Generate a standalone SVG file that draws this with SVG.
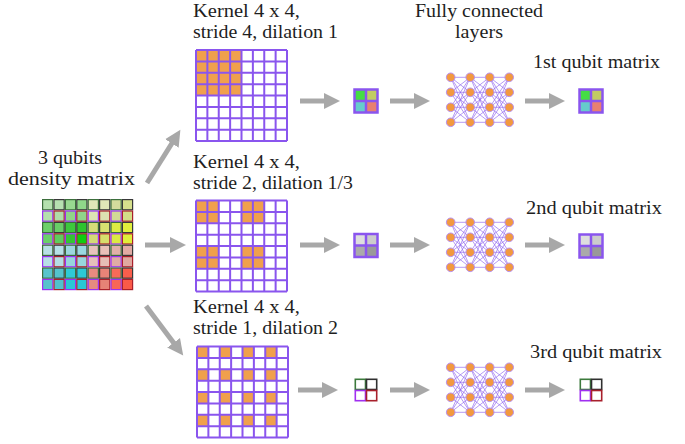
<svg xmlns="http://www.w3.org/2000/svg" xmlns:xlink="http://www.w3.org/1999/xlink" width="685" height="444" viewBox="0 0 685 444">
<style>
  text { font-family: "Liberation Serif", "DejaVu Serif", serif; font-size: 18.5px; fill: #1e1e1e; }
  .gl { fill: none; stroke: #8a55ee; stroke-width: 2; }
  .or { fill: #f0a04c; }
  .arrow { fill: none; stroke: #a8a8a8; stroke-width: 5; marker-end: url(#head); }
  .edge { stroke: #8a60ee; stroke-width: 0.8; stroke-opacity: 0.8; }
  .neuron { fill: #f2993f; stroke: #b890f0; stroke-width: 1; }
  .dm rect { stroke-width: 1.2; }
  .bg { stroke: #3c6e3c; }
  .bk { stroke: #383838; }
  .bp { stroke: #9a30f0; }
  .br { stroke: #a8202c; }
  .qf { fill: none; stroke: #8a55ee; stroke-width: 2.5; }
</style>
<defs>
  <marker id="head" markerUnits="userSpaceOnUse" markerWidth="18" markerHeight="18" refX="4" refY="9" orient="auto">
    <path d="M0 1 L16 9 L0 17 Z" fill="#a8a8a8"/>
  </marker>
  <!-- 8x8 kernel grid lines -->
  <path id="grid8" class="gl" d="M0 0V91M11.375 0V91M22.75 0V91M34.125 0V91M45.5 0V91M56.875 0V91M68.25 0V91M79.625 0V91M91 0V91M0 0H91M0 11.375H91M0 22.75H91M0 34.125H91M0 45.5H91M0 56.875H91M0 68.25H91M0 79.625H91M0 91H91"/>
  <rect id="oc" class="or" width="11.375" height="11.375"/>
  <!-- fully connected network: 4 layers x 4 neurons -->
  <g id="fc">
    <g class="edge">
      <path d="M0 0L19.5 0M0 0L19.5 15M0 0L19.5 30M0 0L19.5 45M0 15L19.5 0M0 15L19.5 15M0 15L19.5 30M0 15L19.5 45M0 30L19.5 0M0 30L19.5 15M0 30L19.5 30M0 30L19.5 45M0 45L19.5 0M0 45L19.5 15M0 45L19.5 30M0 45L19.5 45"/>
      <path transform="translate(19.5 0)" d="M0 0L19.5 0M0 0L19.5 15M0 0L19.5 30M0 0L19.5 45M0 15L19.5 0M0 15L19.5 15M0 15L19.5 30M0 15L19.5 45M0 30L19.5 0M0 30L19.5 15M0 30L19.5 30M0 30L19.5 45M0 45L19.5 0M0 45L19.5 15M0 45L19.5 30M0 45L19.5 45"/>
      <path transform="translate(39 0)" d="M0 0L19.5 0M0 0L19.5 15M0 0L19.5 30M0 0L19.5 45M0 15L19.5 0M0 15L19.5 15M0 15L19.5 30M0 15L19.5 45M0 30L19.5 0M0 30L19.5 15M0 30L19.5 30M0 30L19.5 45M0 45L19.5 0M0 45L19.5 15M0 45L19.5 30M0 45L19.5 45"/>
    </g>
    <g class="neuron">
      <circle cx="0" cy="0" r="4.3"/><circle cx="0" cy="15" r="4.3"/><circle cx="0" cy="30" r="4.3"/><circle cx="0" cy="45" r="4.3"/>
      <circle cx="19.5" cy="0" r="4.3"/><circle cx="19.5" cy="15" r="4.3"/><circle cx="19.5" cy="30" r="4.3"/><circle cx="19.5" cy="45" r="4.3"/>
      <circle cx="39" cy="0" r="4.3"/><circle cx="39" cy="15" r="4.3"/><circle cx="39" cy="30" r="4.3"/><circle cx="39" cy="45" r="4.3"/>
      <circle cx="58.5" cy="0" r="4.3"/><circle cx="58.5" cy="15" r="4.3"/><circle cx="58.5" cy="30" r="4.3"/><circle cx="58.5" cy="45" r="4.3"/>
    </g>
  </g>
  <!-- 2x2 matrix frame -->
  <path id="q2" class="qf" d="M0 0H23V23H0ZM11.5 0V23M0 11.5H23"/>
</defs>

<rect width="685" height="444" fill="#ffffff"/>

<!-- density matrix input -->
<g id="density-matrix">
  <text x="38" y="164" textLength="64" lengthAdjust="spacingAndGlyphs">3 qubits</text>
  <text x="8" y="185" textLength="127" lengthAdjust="spacingAndGlyphs">density matrix</text>
  <g class="dm" transform="translate(42 199)">
    <!-- row 0 -->
    <rect class="bg" x="0.6" y="0.6" width="10.2" height="10.2" fill="#b4e0ae"/>
    <rect class="bk" x="12" y="0.6" width="10.2" height="10.2" fill="#b6e0b0"/>
    <rect class="bg" x="23.4" y="0.6" width="10.2" height="10.2" fill="#98d890"/>
    <rect class="bk" x="34.8" y="0.6" width="10.2" height="10.2" fill="#8fd88a"/>
    <rect class="bg" x="46.2" y="0.6" width="10.2" height="10.2" fill="#dfe6b8"/>
    <rect class="bk" x="57.6" y="0.6" width="10.2" height="10.2" fill="#dfe6b8"/>
    <rect class="bg" x="69" y="0.6" width="10.2" height="10.2" fill="#d4dc9c"/>
    <rect class="bk" x="80.4" y="0.6" width="10.2" height="10.2" fill="#d6e08c"/>
    <!-- row 1 -->
    <rect class="bp" x="0.6" y="12" width="10.2" height="10.2" fill="#b4e0ae"/>
    <rect class="br" x="12" y="12" width="10.2" height="10.2" fill="#b0dca8"/>
    <rect class="bp" x="23.4" y="12" width="10.2" height="10.2" fill="#90d488"/>
    <rect class="br" x="34.8" y="12" width="10.2" height="10.2" fill="#90d48a"/>
    <rect class="bp" x="46.2" y="12" width="10.2" height="10.2" fill="#dde4b4"/>
    <rect class="br" x="57.6" y="12" width="10.2" height="10.2" fill="#dde2b0"/>
    <rect class="bp" x="69" y="12" width="10.2" height="10.2" fill="#d2da96"/>
    <rect class="br" x="80.4" y="12" width="10.2" height="10.2" fill="#d4de88"/>
    <!-- row 2 -->
    <rect class="bg" x="0.6" y="23.4" width="10.2" height="10.2" fill="#6cd06a"/>
    <rect class="bk" x="12" y="23.4" width="10.2" height="10.2" fill="#68ce66"/>
    <rect class="bg" x="23.4" y="23.4" width="10.2" height="10.2" fill="#3cc83c"/>
    <rect class="bk" x="34.8" y="23.4" width="10.2" height="10.2" fill="#2ec42e"/>
    <rect class="bg" x="46.2" y="23.4" width="10.2" height="10.2" fill="#d6dc78"/>
    <rect class="bk" x="57.6" y="23.4" width="10.2" height="10.2" fill="#d8e070"/>
    <rect class="bg" x="69" y="23.4" width="10.2" height="10.2" fill="#dcec44"/>
    <rect class="bk" x="80.4" y="23.4" width="10.2" height="10.2" fill="#e0f03c"/>
    <!-- row 3 -->
    <rect class="bp" x="0.6" y="34.8" width="10.2" height="10.2" fill="#6ad06a"/>
    <rect class="br" x="12" y="34.8" width="10.2" height="10.2" fill="#5ecc5e"/>
    <rect class="bp" x="23.4" y="34.8" width="10.2" height="10.2" fill="#34c434"/>
    <rect class="br" x="34.8" y="34.8" width="10.2" height="10.2" fill="#10cc10"/>
    <rect class="bp" x="46.2" y="34.8" width="10.2" height="10.2" fill="#d4da76"/>
    <rect class="br" x="57.6" y="34.8" width="10.2" height="10.2" fill="#d6de6c"/>
    <rect class="bp" x="69" y="34.8" width="10.2" height="10.2" fill="#dcea42"/>
    <rect class="br" x="80.4" y="34.8" width="10.2" height="10.2" fill="#e0ee3a"/>
    <!-- row 4 -->
    <rect class="bg" x="0.6" y="46.2" width="10.2" height="10.2" fill="#b8e0e6"/>
    <rect class="bk" x="12" y="46.2" width="10.2" height="10.2" fill="#b6e0e6"/>
    <rect class="bg" x="23.4" y="46.2" width="10.2" height="10.2" fill="#9cd6de"/>
    <rect class="bk" x="34.8" y="46.2" width="10.2" height="10.2" fill="#9ad8e0"/>
    <rect class="bg" x="46.2" y="46.2" width="10.2" height="10.2" fill="#e8c2bc"/>
    <rect class="bk" x="57.6" y="46.2" width="10.2" height="10.2" fill="#e8c0b8"/>
    <rect class="bg" x="69" y="46.2" width="10.2" height="10.2" fill="#e2b0a8"/>
    <rect class="bk" x="80.4" y="46.2" width="10.2" height="10.2" fill="#e2aaa4"/>
    <!-- row 5 -->
    <rect class="bp" x="0.6" y="57.6" width="10.2" height="10.2" fill="#b8e0e6"/>
    <rect class="br" x="12" y="57.6" width="10.2" height="10.2" fill="#b4dee4"/>
    <rect class="bp" x="23.4" y="57.6" width="10.2" height="10.2" fill="#98d4dc"/>
    <rect class="br" x="34.8" y="57.6" width="10.2" height="10.2" fill="#98d6de"/>
    <rect class="bp" x="46.2" y="57.6" width="10.2" height="10.2" fill="#e6c0ba"/>
    <rect class="br" x="57.6" y="57.6" width="10.2" height="10.2" fill="#e6beb6"/>
    <rect class="bp" x="69" y="57.6" width="10.2" height="10.2" fill="#e0aca4"/>
    <rect class="br" x="80.4" y="57.6" width="10.2" height="10.2" fill="#e0a8a0"/>
    <!-- row 6 -->
    <rect class="bg" x="0.6" y="69" width="10.2" height="10.2" fill="#58c4cc"/>
    <rect class="bk" x="12" y="69" width="10.2" height="10.2" fill="#54c4cc"/>
    <rect class="bg" x="23.4" y="69" width="10.2" height="10.2" fill="#2ecad6"/>
    <rect class="bk" x="34.8" y="69" width="10.2" height="10.2" fill="#2ccad6"/>
    <rect class="bg" x="46.2" y="69" width="10.2" height="10.2" fill="#e88a80"/>
    <rect class="bk" x="57.6" y="69" width="10.2" height="10.2" fill="#e88478"/>
    <rect class="bg" x="69" y="69" width="10.2" height="10.2" fill="#f86a58"/>
    <rect class="bk" x="80.4" y="69" width="10.2" height="10.2" fill="#fa5e4c"/>
    <!-- row 7 -->
    <rect class="bp" x="0.6" y="80.4" width="10.2" height="10.2" fill="#56c4cc"/>
    <rect class="br" x="12" y="80.4" width="10.2" height="10.2" fill="#50c2cc"/>
    <rect class="bp" x="23.4" y="80.4" width="10.2" height="10.2" fill="#2ac8d4"/>
    <rect class="br" x="34.8" y="80.4" width="10.2" height="10.2" fill="#2ac8d4"/>
    <rect class="bp" x="46.2" y="80.4" width="10.2" height="10.2" fill="#e68a80"/>
    <rect class="br" x="57.6" y="80.4" width="10.2" height="10.2" fill="#e68276"/>
    <rect class="bp" x="69" y="80.4" width="10.2" height="10.2" fill="#f86656"/>
    <rect class="br" x="80.4" y="80.4" width="10.2" height="10.2" fill="#fa5a48"/>
  </g>
</g>

<!-- kernel 1: stride 4, dilation 1 -->
<g id="kernel-1">
  <text x="193" y="17" textLength="107" lengthAdjust="spacingAndGlyphs">Kernel 4 x 4,</text>
  <text x="193" y="38" textLength="145" lengthAdjust="spacingAndGlyphs">stride 4, dilation 1</text>
  <g transform="translate(196 50)">
    <rect width="91" height="91" fill="#ffffff"/>
    <rect class="or" width="45.5" height="45.5"/>
    <use xlink:href="#grid8"/>
  </g>
</g>

<!-- kernel 2: stride 2, dilation 1/3 -->
<g id="kernel-2">
  <text x="193" y="168" textLength="107" lengthAdjust="spacingAndGlyphs">Kernel 4 x 4,</text>
  <text x="193" y="189" textLength="160" lengthAdjust="spacingAndGlyphs">stride 2, dilation 1/3</text>
  <g transform="translate(196 200.5)">
    <rect width="91" height="91" fill="#ffffff"/>
    <rect class="or" x="0" y="0" width="22.75" height="22.75"/>
    <rect class="or" x="45.5" y="0" width="22.75" height="22.75"/>
    <rect class="or" x="0" y="45.5" width="22.75" height="22.75"/>
    <rect class="or" x="45.5" y="45.5" width="22.75" height="22.75"/>
    <use xlink:href="#grid8"/>
  </g>
</g>

<!-- kernel 3: stride 1, dilation 2 -->
<g id="kernel-3">
  <text x="193" y="313" textLength="107" lengthAdjust="spacingAndGlyphs">Kernel 4 x 4,</text>
  <text x="193" y="334" textLength="145" lengthAdjust="spacingAndGlyphs">stride 1, dilation 2</text>
  <g transform="translate(197 346.5)">
    <rect width="91" height="91" fill="#ffffff"/>
    <use xlink:href="#oc" x="0" y="0"/><use xlink:href="#oc" x="22.75" y="0"/><use xlink:href="#oc" x="45.5" y="0"/><use xlink:href="#oc" x="68.25" y="0"/>
    <use xlink:href="#oc" x="0" y="22.75"/><use xlink:href="#oc" x="22.75" y="22.75"/><use xlink:href="#oc" x="45.5" y="22.75"/><use xlink:href="#oc" x="68.25" y="22.75"/>
    <use xlink:href="#oc" x="0" y="45.5"/><use xlink:href="#oc" x="22.75" y="45.5"/><use xlink:href="#oc" x="45.5" y="45.5"/><use xlink:href="#oc" x="68.25" y="45.5"/>
    <use xlink:href="#oc" x="0" y="68.25"/><use xlink:href="#oc" x="22.75" y="68.25"/><use xlink:href="#oc" x="45.5" y="68.25"/><use xlink:href="#oc" x="68.25" y="68.25"/>
    <use xlink:href="#grid8"/>
  </g>
</g>

<!-- pooled 2x2 features -->
<g id="feature-1" transform="translate(354.5 89.5)">
  <rect width="11.5" height="11.5" fill="#44dd44"/>
  <rect x="11.5" width="11.5" height="11.5" fill="#c2cc62"/>
  <rect y="11.5" width="11.5" height="11.5" fill="#66cccc"/>
  <rect x="11.5" y="11.5" width="11.5" height="11.5" fill="#e88070"/>
  <use xlink:href="#q2"/>
</g>
<g id="feature-2" transform="translate(354.5 234)">
  <rect width="11.5" height="11.5" fill="#dedede"/>
  <rect x="11.5" width="11.5" height="11.5" fill="#cccccc"/>
  <rect y="11.5" width="11.5" height="11.5" fill="#aaaaaa"/>
  <rect x="11.5" y="11.5" width="11.5" height="11.5" fill="#999999"/>
  <use xlink:href="#q2"/>
</g>
<g id="feature-3" transform="translate(354.5 378.5)">
  <rect x="0.8" y="0.8" width="10.2" height="10.2" fill="#ffffff" stroke="#3c7a3c" stroke-width="1.6"/>
  <rect x="12" y="0.8" width="10.2" height="10.2" fill="#ffffff" stroke="#303030" stroke-width="1.6"/>
  <rect x="0.8" y="12" width="10.2" height="10.2" fill="#ffffff" stroke="#a030f0" stroke-width="1.6"/>
  <rect x="12" y="12" width="10.2" height="10.2" fill="#ffffff" stroke="#a8202c" stroke-width="1.6"/>
</g>

<!-- fully connected layers -->
<g id="fc-1">
  <text x="415" y="17" textLength="128" lengthAdjust="spacingAndGlyphs">Fully connected</text>
  <text x="455" y="38" textLength="48" lengthAdjust="spacingAndGlyphs">layers</text>
  <use xlink:href="#fc" x="450.7" y="77.3"/>
</g>
<use id="fc-2" xlink:href="#fc" x="450.7" y="222.3"/>
<use id="fc-3" xlink:href="#fc" x="450.7" y="367.3"/>

<!-- single-qubit outputs -->
<g id="qubit-1">
  <text x="533" y="68" textLength="127" lengthAdjust="spacingAndGlyphs">1st qubit matrix</text>
  <g transform="translate(579.5 89.5)">
    <rect width="11.5" height="11.5" fill="#44dd44"/>
    <rect x="11.5" width="11.5" height="11.5" fill="#c2cc62"/>
    <rect y="11.5" width="11.5" height="11.5" fill="#66cccc"/>
    <rect x="11.5" y="11.5" width="11.5" height="11.5" fill="#e88070"/>
    <use xlink:href="#q2"/>
  </g>
</g>
<g id="qubit-2">
  <text x="526" y="214" textLength="136" lengthAdjust="spacingAndGlyphs">2nd qubit matrix</text>
  <g transform="translate(579.5 234.5)">
    <rect width="11.5" height="11.5" fill="#dedede"/>
    <rect x="11.5" width="11.5" height="11.5" fill="#cccccc"/>
    <rect y="11.5" width="11.5" height="11.5" fill="#aaaaaa"/>
    <rect x="11.5" y="11.5" width="11.5" height="11.5" fill="#999999"/>
    <use xlink:href="#q2"/>
  </g>
</g>
<g id="qubit-3">
  <text x="530" y="358" textLength="132" lengthAdjust="spacingAndGlyphs">3rd qubit matrix</text>
  <g transform="translate(579.5 378.5)">
    <rect x="0.8" y="0.8" width="10.2" height="10.2" fill="#ffffff" stroke="#3c7a3c" stroke-width="1.6"/>
    <rect x="12" y="0.8" width="10.2" height="10.2" fill="#ffffff" stroke="#303030" stroke-width="1.6"/>
    <rect x="0.8" y="12" width="10.2" height="10.2" fill="#ffffff" stroke="#a030f0" stroke-width="1.6"/>
    <rect x="12" y="12" width="10.2" height="10.2" fill="#ffffff" stroke="#a8202c" stroke-width="1.6"/>
  </g>
</g>

<!-- connectors -->
<g id="connectors">
  <path class="arrow" d="M147 183L174 140"/>
  <path class="arrow" d="M145 245L174 245"/>
  <path class="arrow" d="M146 306L176 346"/>
  <path class="arrow" d="M300 101L328 101"/>
  <path class="arrow" d="M390 101L418 101"/>
  <path class="arrow" d="M525 101L553 101"/>
  <path class="arrow" d="M300 245L328 245"/>
  <path class="arrow" d="M390 245L418 245"/>
  <path class="arrow" d="M525 245L553 245"/>
  <path class="arrow" d="M298 390L326 390"/>
  <path class="arrow" d="M390 390L418 390"/>
  <path class="arrow" d="M525 390L553 390"/>
</g>
</svg>
